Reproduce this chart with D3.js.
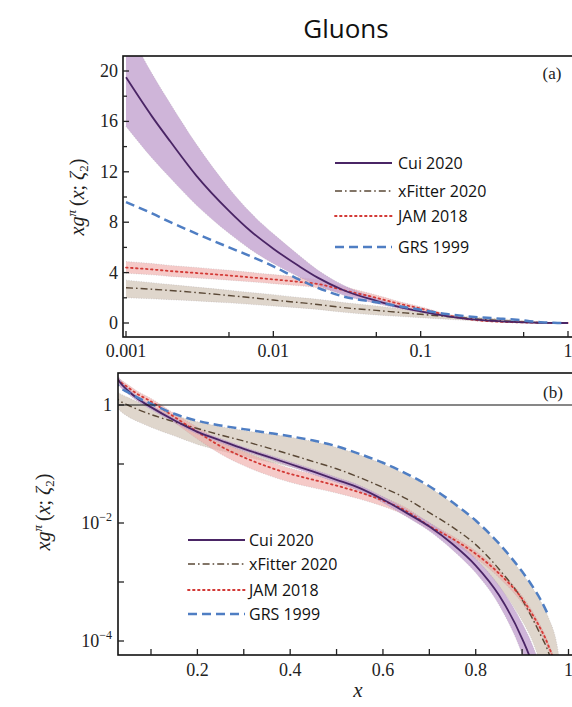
<!DOCTYPE html>
<html>
<head>
<meta charset="utf-8">
<script src="https://cdn.jsdelivr.net/npm/d3@7"></script>
<style>
  html, body { margin: 0; padding: 0; background: #fff; }
  svg { display: block; }
</style>
</head>
<body>
<svg id="chart" width="572" height="707"></svg>
<script>
// Momentum fraction grid shared by both panels
const xGrid = [0.001, 0.0015, 0.002, 0.003, 0.005, 0.007, 0.01, 0.015, 0.02, 0.03, 0.05, 0.07, 0.1, 0.15, 0.2, 0.25, 0.3, 0.35, 0.4, 0.45, 0.5, 0.55, 0.6, 0.65, 0.7, 0.75, 0.8, 0.85, 0.9, 0.92, 0.94, 0.955, 0.98, 1.0];

// Cui 2020: central value and uncertainty band
const cuiMid  = [19.5, 16.4, 14.4, 11.7, 8.9, 7.3, 5.9, 4.5, 3.6, 2.6, 1.76, 1.3, 0.92, 0.55, 0.35, 0.25, 0.18, 0.135, 0.10, 0.074, 0.054, 0.039, 0.025, 0.015, 0.0087, 0.0044, 0.0019, 0.0006, 0.00011, 0.000045, 0.0000126, 0.000003, 1e-7, 1e-9];
const cuiLow  = [15.6, 13.1, 11.5, 9.36, 7.12, 5.84, 4.72, 3.65, 2.99, 2.21, 1.55, 1.17, 0.837, 0.506, 0.322, 0.23, 0.166, 0.124, 0.091, 0.0666, 0.0486, 0.0347, 0.022, 0.0129, 0.0073, 0.0035, 0.00143, 0.00041, 0.00006, 0.00002, 0.0000044, 0.0000009, 1e-8, 1e-10];
const cuiHigh = [23.6, 19.8, 17.4, 14.2, 10.7, 8.76, 7.08, 5.36, 4.21, 2.99, 1.97, 1.43, 1.0, 0.594, 0.378, 0.27, 0.194, 0.146, 0.109, 0.0814, 0.0594, 0.0433, 0.028, 0.0171, 0.0102, 0.00537, 0.00247, 0.00087, 0.0002, 0.0000945, 0.0000328, 0.000009, 5e-7, 5e-9];

// xFitter 2020
const xfMid  = [2.8, 2.68, 2.58, 2.42, 2.18, 2.02, 1.82, 1.62, 1.47, 1.22, 1.0, 0.85, 0.69, 0.52, 0.40, 0.31, 0.245, 0.19, 0.145, 0.11, 0.083, 0.059, 0.040, 0.026, 0.015, 0.0085, 0.0043, 0.00166, 0.0005, 0.00026, 0.000126, 0.00007, 0.0000126, 1e-8];
const xfLow  = [2.0, 1.92, 1.85, 1.75, 1.6, 1.48, 1.35, 1.2, 1.08, 0.85, 0.64, 0.53, 0.42, 0.30, 0.215, 0.168, 0.135, 0.11, 0.09, 0.073, 0.057, 0.039, 0.025, 0.0152, 0.0088, 0.0048, 0.0024, 0.00085, 0.00022, 0.00011, 0.00004, 0.000015, 0.000001, 1e-9];
const xfHigh = [3.4, 3.2, 3.05, 2.85, 2.6, 2.42, 2.25, 2.02, 1.88, 1.62, 1.35, 1.15, 0.96, 0.68, 0.52, 0.43, 0.37, 0.325, 0.285, 0.24, 0.19, 0.142, 0.10, 0.066, 0.04, 0.0215, 0.0105, 0.0043, 0.0014, 0.00085, 0.00047, 0.00027, 0.00005, 1e-8];

// JAM 2018
const jamMid  = [4.4, 4.25, 4.12, 3.97, 3.77, 3.62, 3.46, 3.26, 3.1, 2.6, 2.0, 1.55, 1.15, 0.63, 0.35, 0.20, 0.13, 0.091, 0.068, 0.054, 0.043, 0.033, 0.024, 0.016, 0.0089, 0.0054, 0.003, 0.0014, 0.00052, 0.0003, 0.00016, 0.00009, 0.000016, 1e-8];
const jamLow  = [3.95, 3.82, 3.7, 3.57, 3.4, 3.27, 3.12, 2.95, 2.8, 2.34, 1.78, 1.36, 0.98, 0.51, 0.265, 0.148, 0.094, 0.0655, 0.049, 0.0394, 0.0322, 0.0254, 0.0192, 0.0133, 0.0076, 0.0046, 0.00255, 0.00119, 0.00044, 0.000255, 0.000136, 0.0000765, 0.0000136, 1e-9];
const jamHigh = [4.88, 4.72, 4.57, 4.41, 4.18, 4.02, 3.84, 3.62, 3.44, 2.89, 2.22, 1.73, 1.29, 0.72, 0.42, 0.245, 0.1625, 0.114, 0.085, 0.0668, 0.0516, 0.0389, 0.0276, 0.0181, 0.01, 0.006, 0.00336, 0.00157, 0.00058, 0.00034, 0.00018, 0.0001, 0.000018, 1e-8];

// GRS 1999 (no band)
const grsMid = [9.6, 8.7, 8.0, 7.1, 6.0, 5.3, 4.5, 3.45, 2.8, 2.1, 1.65, 1.35, 1.05, 0.71, 0.54, 0.45, 0.39, 0.34, 0.295, 0.25, 0.20, 0.148, 0.105, 0.069, 0.042, 0.0224, 0.011, 0.0045, 0.0015, 0.0009, 0.0005, 0.00029, null, null];

// Axis ticks and labels
const topXTicks = [0.001, 0.01, 0.1, 1];
const topXTickLabels = ["0.001", "0.01", "0.1", "1"];
const topXMinor = [0.005, 0.05, 0.5];
const topYTicks = [0, 4, 8, 12, 16, 20];
const topYMinor = [2, 6, 10, 14, 18];
const botXTicks = [0.1, 0.2, 0.3, 0.4, 0.5, 0.6, 0.7, 0.8, 0.9, 1.0];
const botXLabels = [0.2, 0.4, 0.6, 0.8, 1.0];
const botXLabelText = ["0.2", "0.4", "0.6", "0.8", "1"];
const botYTicks = [1, 1e-1, 1e-2, 1e-3, 1e-4];
const botYLabels = [1, 1e-2, 1e-4];
const botYExp = [null, "\u22122", "\u22124"];

const seriesNames = ["Cui 2020", "xFitter 2020", "JAM 2018", "GRS 1999"];

const styles = {
  cui: { stroke: "#4a2565", width: 1.8, dash: null, band: "#c3a3d0", bandOpacity: 0.8 },
  xf:  { stroke: "#5a4836", width: 1.4, dash: "7,3,1.6,3", band: "#d7ccbf", bandOpacity: 0.8 },
  jam: { stroke: "#d33a36", width: 1.8, dash: "1.6,3.4", band: "#efa6a4", bandOpacity: 0.6 },
  grs: { stroke: "#4f7ec3", width: 2.5, dash: "9,5", band: null }
};

const serif = "'Liberation Serif', 'DejaVu Serif', serif";
const sans = "'Open Sans', 'Lato', sans-serif";

const svg = d3.select("#chart");

// Title
svg.append("text")
  .attr("x", 346).attr("y", 38)
  .attr("text-anchor", "middle")
  .attr("font-family", sans).attr("font-size", 26)
  .attr("fill", "#111")
  .text("Gluons");

const rows = xGrid.map((x, i) => ({
  x,
  cuiMid: cuiMid[i], cuiLow: cuiLow[i], cuiHigh: cuiHigh[i],
  xfMid: xfMid[i], xfLow: xfLow[i], xfHigh: xfHigh[i],
  jamMid: jamMid[i], jamLow: jamLow[i], jamHigh: jamHigh[i],
  grsMid: grsMid[i]
}));

function drawPanel(cfg) {
  const g = svg.append("g");
  const clipId = "clip-" + cfg.id;
  svg.append("clipPath").attr("id", clipId)
    .append("rect")
    .attr("x", cfg.left).attr("y", cfg.top)
    .attr("width", cfg.right - cfg.left).attr("height", cfg.bottom - cfg.top);

  const x = cfg.x, y = cfg.y;
  const okY = v => v != null && (cfg.logY ? v > 0 : true);
  const plot = g.append("g").attr("clip-path", `url(#${clipId})`);
  const rowsIn = rows.filter(d => d.x >= cfg.xMin);

  // Uncertainty bands
  const bands = [["xf", "xfLow", "xfHigh"], ["jam", "jamLow", "jamHigh"], ["cui", "cuiLow", "cuiHigh"]];
  bands.forEach(([k, lo, hi]) => {
    const area = d3.area()
      .defined(d => okY(d[lo]) && okY(d[hi]))
      .x(d => x(d.x)).y0(d => y(d[lo])).y1(d => y(d[hi]))
      .curve(d3.curveMonotoneX);
    plot.append("path").datum(rowsIn)
      .attr("d", area)
      .attr("fill", styles[k].band)
      .attr("fill-opacity", styles[k].bandOpacity)
      .attr("stroke", "none");
    [lo, hi].forEach(edge => {
      const ln = d3.line().defined(d => okY(d[edge]))
        .x(d => x(d.x)).y(d => y(d[edge])).curve(d3.curveMonotoneX);
      plot.append("path").datum(rowsIn).attr("d", ln)
        .attr("fill", "none").attr("stroke", "#9a8f95")
        .attr("stroke-opacity", 0.45).attr("stroke-width", 0.7)
        .attr("stroke-dasharray", "1,1.5");
    });
  });

  // Central curves
  const curves = [["xf", "xfMid"], ["jam", "jamMid"], ["cui", "cuiMid"], ["grs", "grsMid"]];
  curves.forEach(([k, key]) => {
    const ln = d3.line().defined(d => okY(d[key]))
      .x(d => x(d.x)).y(d => y(d[key])).curve(d3.curveMonotoneX);
    plot.append("path").datum(rowsIn).attr("d", ln)
      .attr("fill", "none")
      .attr("stroke", styles[k].stroke)
      .attr("stroke-width", styles[k].width)
      .attr("stroke-dasharray", styles[k].dash)
      .attr("stroke-linecap", k === "jam" ? "round" : "butt");
  });

  if (cfg.unityLine) {
    g.append("line")
      .attr("x1", cfg.left).attr("x2", cfg.right)
      .attr("y1", y(1)).attr("y2", y(1))
      .attr("stroke", "#111").attr("stroke-width", 1.1);
  }

  // Frame
  g.append("rect")
    .attr("x", cfg.left).attr("y", cfg.top)
    .attr("width", cfg.right - cfg.left).attr("height", cfg.bottom - cfg.top)
    .attr("fill", "none").attr("stroke", "#111").attr("stroke-width", 1.6);

  // Ticks
  const tk = g.append("g").attr("stroke", "#222").attr("stroke-width", 1.3);
  cfg.xTicks.forEach(v => tk.append("line")
    .attr("x1", x(v)).attr("x2", x(v)).attr("y1", cfg.bottom).attr("y2", cfg.bottom - 6));
  (cfg.xMinor || []).forEach(v => tk.append("line")
    .attr("x1", x(v)).attr("x2", x(v)).attr("y1", cfg.bottom).attr("y2", cfg.bottom - 5));
  cfg.yTicks.forEach(v => tk.append("line")
    .attr("x1", cfg.left).attr("x2", cfg.left + 6).attr("y1", y(v)).attr("y2", y(v)));
  (cfg.yMinor || []).forEach(v => tk.append("line")
    .attr("x1", cfg.left).attr("x2", cfg.left + 4).attr("y1", y(v)).attr("y2", y(v)));

  // Panel tag
  g.append("text")
    .attr("x", cfg.tagX).attr("y", cfg.tagY)
    .attr("text-anchor", "middle")
    .attr("font-family", serif).attr("font-size", 17).attr("fill", "#222")
    .text(cfg.tag);

  return g;
}

// ---------- Panel (a): log x, linear y ----------
const xTop = d3.scaleLog().domain([0.001, 1]).range([126, 568]);
const yTop = d3.scaleLinear().domain([0, 20]).range([323, 71]);
const gA = drawPanel({
  id: "a", left: 123, right: 575, top: 56, bottom: 337,
  x: xTop, y: yTop, xMin: 0.001, logY: false,
  xTicks: topXTicks, xMinor: topXMinor, yTicks: topYTicks, yMinor: topYMinor,
  tag: "(a)", tagX: 552, tagY: 79
});
topXTicks.forEach((v, i) => gA.append("text")
  .attr("x", xTop(v)).attr("y", 357).attr("text-anchor", "middle")
  .attr("font-family", serif).attr("font-size", 18).attr("fill", "#222")
  .text(topXTickLabels[i]));
topYTicks.forEach(v => gA.append("text")
  .attr("x", 118).attr("y", yTop(v) + 6).attr("text-anchor", "end")
  .attr("font-family", serif).attr("font-size", 18).attr("fill", "#222")
  .text(v));

// ---------- Panel (b): linear x, log y ----------
const xBot = d3.scaleLinear().domain([0.1, 1.0]).range([151, 568.5]);
const yBot = d3.scaleLog().domain([1, 1e-4]).range([405, 641]);
const gB = drawPanel({
  id: "b", left: 118, right: 575, top: 373, bottom: 655,
  x: xBot, y: yBot, xMin: 0.02, logY: true, unityLine: true,
  xTicks: botXTicks, yTicks: botYTicks,
  tag: "(b)", tagX: 553, tagY: 398
});
botXLabels.forEach((v, i) => gB.append("text")
  .attr("x", xBot(v)).attr("y", 676).attr("text-anchor", "middle")
  .attr("font-family", serif).attr("font-size", 18).attr("fill", "#222")
  .text(botXLabelText[i]));
botYLabels.forEach((v, i) => {
  const t = gB.append("text")
    .attr("x", 112).attr("y", yBot(v) + 6).attr("text-anchor", "end")
    .attr("font-family", serif).attr("font-size", 18).attr("fill", "#222");
  if (botYExp[i] == null) { t.text("1"); return; }
  t.append("tspan").text("10");
  t.append("tspan").attr("dy", -8).attr("font-size", 12).text(botYExp[i]);
});
svg.append("text")
  .attr("x", 358).attr("y", 697).attr("text-anchor", "middle")
  .attr("font-family", serif).attr("font-style", "italic").attr("font-size", 21)
  .attr("fill", "#222").text("x");

// Y-axis titles
function yTitle(cx, cy) {
  const t = svg.append("text")
    .attr("transform", `translate(${cx},${cy}) rotate(-90)`)
    .attr("text-anchor", "middle")
    .attr("font-family", serif).attr("font-size", 20).attr("fill", "#222");
  t.append("tspan").attr("font-style", "italic").text("xg");
  t.append("tspan").attr("font-style", "italic").attr("font-size", 13).attr("dy", -8).text("\u03c0");
  t.append("tspan").attr("dy", 8).text("\u2009(");
  t.append("tspan").attr("font-style", "italic").text("x");
  t.append("tspan").text("; ");
  t.append("tspan").attr("font-style", "italic").text("\u03b6");
  t.append("tspan").attr("font-size", 13).attr("dy", 4).text("2");
  t.append("tspan").attr("dy", -4).text(")");
}
yTitle(84, 197);
yTitle(50, 512);

// Legends
const legendKeys = ["cui", "xf", "jam", "grs"];
function legend(x0, x1, tx, ys, fs) {
  const g = svg.append("g");
  legendKeys.forEach((k, i) => {
    g.append("line")
      .attr("x1", x0).attr("x2", x1).attr("y1", ys[i]).attr("y2", ys[i])
      .attr("stroke", styles[k].stroke).attr("stroke-width", styles[k].width)
      .attr("stroke-dasharray", styles[k].dash)
      .attr("stroke-linecap", k === "jam" ? "round" : "butt");
    g.append("text")
      .attr("x", tx).attr("y", ys[i] + 5.5)
      .attr("font-family", sans).attr("font-size", fs).attr("fill", "#111")
      .text(seriesNames[i]);
  });
}
legend(335, 392, 398, [163, 191, 216, 247], 16);
legend(188, 245, 249, [540, 564, 590, 614], 16);
</script>
</body>
</html>
